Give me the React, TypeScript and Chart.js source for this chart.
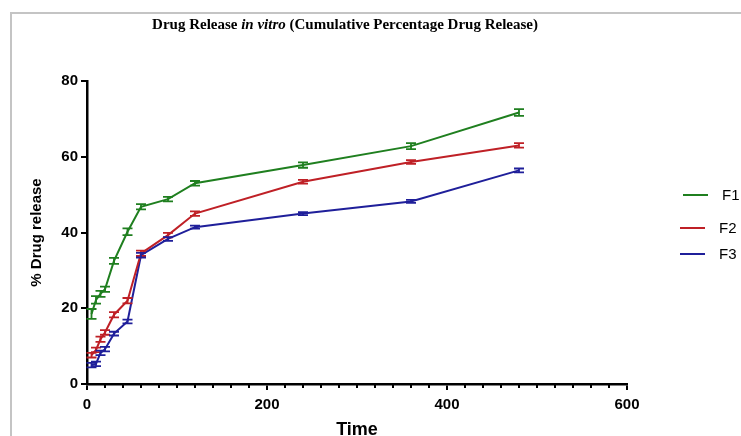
import React, { useEffect, useRef } from "react";
import { Chart, registerables } from "chart.js";

Chart.register(...registerables);

const times = [5, 10, 15, 20, 30, 45, 60, 90, 120, 240, 360, 480];
const f1 = [18.5, 22.2, 23.8, 25.0, 32.5, 40.2, 46.8, 48.8, 53.0, 57.8, 62.8, 71.7];
const f2 = [7.6, 9.0, 11.8, 13.6, 18.3, 22.0, 34.5, 39.3, 45.0, 53.4, 58.6, 63.0];
const f3 = [5.0, 5.3, 8.2, 9.2, 13.3, 16.5, 34.0, 38.3, 41.4, 45.0, 48.2, 56.4];
const f1Err = [1.3, 1.0, 0.8, 0.7, 0.8, 0.9, 0.7, 0.6, 0.6, 0.7, 0.8, 0.9];
const f2Err = [0.6, 0.6, 0.7, 0.6, 0.7, 0.7, 0.7, 0.6, 0.6, 0.5, 0.5, 0.6];
const f3Err = [0.6, 0.6, 0.6, 0.6, 0.5, 0.5, 0.6, 0.5, 0.4, 0.4, 0.4, 0.5];
const seriesNames = ["F1", "F2", "F3"];
const seriesColors = ["#1f7f1f", "#bf2026", "#1f1f9a"];
const xTicks = [0, 200, 400, 600];
const yTicks = [0, 20, 40, 60, 80];

const SANS = "'Liberation Sans', Arial, sans-serif";
const SERIF = "'Liberation Serif', 'Times New Roman', serif";

const errs = [f1Err, f2Err, f3Err];

const framePlugin = {
  id: "frameTitle",
  beforeDraw(chart: any) {
    const ctx = chart.ctx;
    ctx.save();
    ctx.fillStyle = "#ffffff";
    ctx.fillRect(0, 0, chart.width, chart.height);
    ctx.strokeStyle = "#c4c4c4";
    ctx.lineWidth = 2;
    ctx.beginPath();
    ctx.moveTo(11, chart.height);
    ctx.lineTo(11, 13);
    ctx.lineTo(chart.width, 13);
    ctx.stroke();
    const parts = [
      { t: "Drug Release ", f: `bold 15px ${SERIF}` },
      { t: "in vitro", f: `italic bold 15px ${SERIF}` },
      { t: " (Cumulative Percentage Drug Release)", f: `bold 15px ${SERIF}` },
    ];
    let total = 0;
    const widths = parts.map((p) => {
      ctx.font = p.f;
      const w = ctx.measureText(p.t).width;
      total += w;
      return w;
    });
    let x = 345 - total / 2;
    ctx.fillStyle = "#000";
    ctx.textBaseline = "middle";
    ctx.textAlign = "left";
    parts.forEach((p, i) => {
      ctx.font = p.f;
      ctx.fillText(p.t, x, 25);
      x += widths[i];
    });
    ctx.restore();
  },
};

const errorBarPlugin = {
  id: "errorBars",
  afterDatasetsDraw(chart: any) {
    const ctx = chart.ctx;
    const xs = chart.scales.x;
    const ys = chart.scales.y;
    ctx.save();
    chart.data.datasets.forEach((ds: any, di: number) => {
      ctx.strokeStyle = seriesColors[di];
      ctx.lineWidth = 1.8;
      ds.data.forEach((pt: any, i: number) => {
        const e = errs[di][i];
        const x = xs.getPixelForValue(pt.x);
        const yt = ys.getPixelForValue(pt.y + e);
        const yb = ys.getPixelForValue(pt.y - e);
        ctx.beginPath();
        ctx.moveTo(x, yt);
        ctx.lineTo(x, yb);
        ctx.moveTo(x - 5, yt);
        ctx.lineTo(x + 5, yt);
        ctx.moveTo(x - 5, yb);
        ctx.lineTo(x + 5, yb);
        ctx.stroke();
      });
    });
    ctx.restore();
  },
  afterDraw(chart: any) {
    const ctx = chart.ctx;
    const xs = chart.scales.x;
    const bottom = chart.chartArea.bottom;
    ctx.save();
    ctx.strokeStyle = "#000";
    ctx.lineWidth = 2;
    for (let v = 20; v < 600; v += 20) {
      if (v % 200 === 0) continue;
      const x = Math.round(xs.getPixelForValue(v));
      ctx.beginPath();
      ctx.moveTo(x, bottom);
      ctx.lineTo(x, bottom + 4);
      ctx.stroke();
    }
    const legendY = [195, 228, 254];
    const lineX = [683, 680, 680];
    const textX = [722, 719, 719];
    seriesNames.forEach((n, i) => {
      ctx.strokeStyle = seriesColors[i];
      ctx.lineWidth = 2;
      ctx.beginPath();
      ctx.moveTo(lineX[i], legendY[i]);
      ctx.lineTo(lineX[i] + 25, legendY[i]);
      ctx.stroke();
      ctx.fillStyle = "#000";
      ctx.font = `15px ${SANS}`;
      ctx.textBaseline = "middle";
      ctx.textAlign = "left";
      ctx.fillText(n, textX[i], legendY[i] + 1);
    });
    ctx.restore();
  },
};

export default function App() {
  const ref = useRef<HTMLCanvasElement | null>(null);
  useEffect(() => {
    if (!ref.current) return;
    const series = [f1, f2, f3];
    const chart = new Chart(ref.current, {
      type: "line",
      data: {
        datasets: series.map((s, di) => ({
          label: seriesNames[di],
          data: s.map((v, i) => ({ x: times[i], y: v })),
          borderColor: seriesColors[di],
          backgroundColor: seriesColors[di],
          borderWidth: 2,
          pointRadius: 0,
          tension: 0,
          fill: false,
        })),
      },
      options: {
        responsive: false,
        animation: false,
        layout: { padding: { left: 24, top: 81, right: 114, bottom: 0 } },
        plugins: {
          legend: { display: false },
          title: { display: false },
          tooltip: { enabled: false },
        },
        scales: {
          x: {
            type: "linear",
            min: 0,
            max: 600,
            afterBuildTicks: (s: any) => {
              s.ticks = xTicks.map((v) => ({ value: v }));
            },
            afterFit: (s: any) => {
              s.height = 52;
            },
            ticks: {
              color: "#000",
              font: { family: SANS, size: 15, weight: "bold" },
              padding: 6,
              maxRotation: 0,
            },
            grid: {
              drawOnChartArea: false,
              drawTicks: true,
              tickLength: 6,
              color: "#000",
              lineWidth: 2,
            },
            border: { display: true, color: "#000", width: 2.5 },
            title: {
              display: true,
              text: "Time",
              color: "#000",
              font: { family: SANS, size: 18, weight: "bold", lineHeight: 1 },
              padding: { top: 0, bottom: -3 },
            },
          },
          y: {
            type: "linear",
            min: 0,
            max: 80,
            afterBuildTicks: (s: any) => {
              s.ticks = yTicks.map((v) => ({ value: v }));
            },
            afterFit: (s: any) => {
              s.width = 63;
            },
            ticks: {
              color: "#000",
              font: { family: SANS, size: 15, weight: "bold" },
              padding: 3,
            },
            grid: {
              drawOnChartArea: false,
              drawTicks: true,
              tickLength: 6,
              color: "#000",
              lineWidth: 2,
            },
            border: { display: true, color: "#000", width: 2.5 },
            title: {
              display: true,
              text: "% Drug release",
              color: "#000",
              font: { family: SANS, size: 15, weight: "bold" },
              padding: { top: 4, bottom: 4 },
            },
          },
        },
      },
      plugins: [framePlugin, errorBarPlugin],
    } as any);
    return () => chart.destroy();
  }, []);
  return (
    <div style={{ position: "fixed", left: 0, top: 0, width: 741, height: 436, background: "#fff" }}>
      <canvas ref={ref} width={741} height={436} style={{ display: "block" }} />
    </div>
  );
}
